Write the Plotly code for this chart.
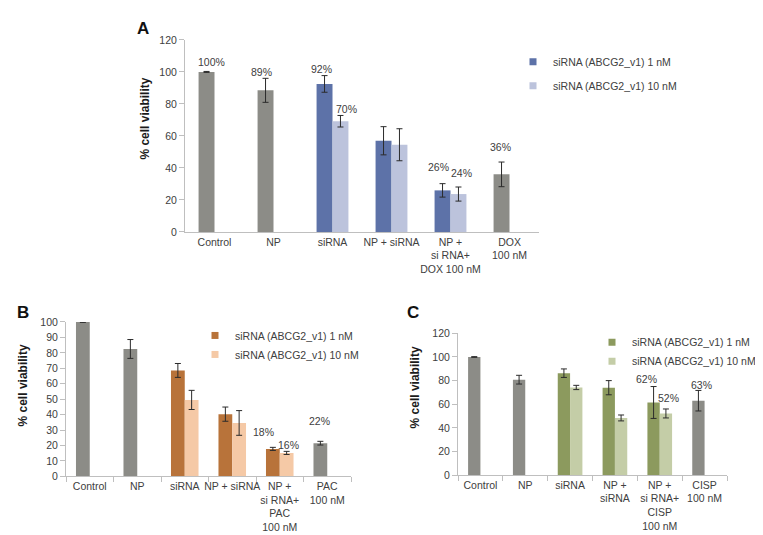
import plotly.graph_objects as go

# ---------------- data ----------------
cats_A = ["Control", "NP", "siRNA", "NP + siRNA", "NP +<br>si RNA+<br>DOX 100 nM", "DOX<br>100 nM"]
cats_B = ["Control", "NP", "siRNA", "NP + siRNA", "NP +<br>si RNA+<br>PAC<br>100 nM", "PAC<br>100 nM"]
cats_C = ["Control", "NP", "siRNA", "NP +<br>siRNA", "NP +<br>si RNA+<br>CISP<br>100 nM", "CISP<br>100 nM"]

series_names = ["siRNA (ABCG2_v1) 1 nM", "siRNA (ABCG2_v1) 10 nM"]

# Panel A (DOX)
A_ctrl_idx = [0, 1, 5]
A_ctrl_val = [100, 88.5, 36]
A_ctrl_err = [0.3, 7.5, 7.7]
A_si_idx = [2, 3, 4]
A_1nM_val = [92.5, 57, 26]
A_1nM_err = [5.2, 8.8, 4.2]
A_10nM_val = [69.2, 54.5, 23.7]
A_10nM_err = [3.6, 10, 4.4]

# Panel B (PAC)
B_ctrl_val = [100, 82.5, 21.5]
B_ctrl_err = [0.3, 6.1, 1.2]
B_1nM_val = [68.6, 40.3, 17.8]
B_1nM_err = [4.5, 4.6, 1.0]
B_10nM_val = [49.5, 34.6, 15.2]
B_10nM_err = [6.2, 8.0, 1.0]

# Panel C (CISP)
C_ctrl_val = [100, 80.8, 63]
C_ctrl_err = [0.3, 3.7, 8.7]
C_1nM_val = [86.3, 74, 61.5]
C_1nM_err = [3.6, 6.0, 13.5]
C_10nM_val = [74.2, 48.4, 52.2]
C_10nM_err = [1.8, 2.5, 3.8]

# percentage labels: (series, index within series, text)
A_labels = [("ctrl", 0, "100%"), ("ctrl", 1, "89%"), ("s1", 0, "92%"), ("s10", 0, "70%"),
            ("s1", 2, "26%"), ("s10", 2, "24%"), ("ctrl", 2, "36%")]
B_labels = [("s1", 2, "18%"), ("s10", 2, "16%"), ("ctrl", 2, "22%")]
C_labels = [("s1", 2, "62%"), ("s10", 2, "52%"), ("ctrl", 2, "63%")]

# ---------------- styling ----------------
W, H = 763, 535
FONT = "Liberation Sans, Arial, sans-serif"
TXT = "#404040"
AXC = "#bfbfbf"
GRAY = "#8c8c87"
ERRC = "#2b2b2b"

panels = [
    dict(key="A", cats=cats_A, ctrl=(A_ctrl_val, A_ctrl_err), s1=(A_1nM_val, A_1nM_err),
         s10=(A_10nM_val, A_10nM_err), labels=A_labels,
         colors=("#5d72a8", "#bcc3dc"), xpx=(177, 531), ypx=(26.5, 223), yr=120, dt=20, bw=0.27,
         xticks=False,
         lab_shift=[(-3.5, 9.5), (-12.5, 6), (-11.5, 7), (13.5, 6), (-12, 17), (11, 14), (-9.5, 15)],
         ytitle=(137, 107), letter=(135, 15), legend=(505, 34, 5)),
    dict(key="B", cats=cats_B, ctrl=(B_ctrl_val, B_ctrl_err), s1=(B_1nM_val, B_1nM_err),
         s10=(B_10nM_val, B_10nM_err), labels=B_labels,
         colors=("#b8733a", "#f5c9a6"), xpx=(58, 343), ypx=(315, 473), yr=100, dt=10, bw=0.29,
         xticks=True,
         lab_shift=[(-16.5, 15), (9, 6), (-8, 20)],
         ytitle=(15, 380), letter=(15, 305), legend=(187, 314, 0)),
    dict(key="C", cats=cats_C, ctrl=(C_ctrl_val, C_ctrl_err), s1=(C_1nM_val, C_1nM_err),
         s10=(C_10nM_val, C_10nM_err), labels=C_labels,
         colors=("#8c9a5e", "#c4cda7"), xpx=(450, 719), ypx=(326.7, 471.7), yr=120, dt=20, bw=0.275,
         xticks=True,
         lab_shift=[(-13.6, 8), (8.5, 11), (-3.5, 5)],
         ytitle=(407, 382), letter=(405, 305), legend=(584, 321, 0)),
]

fig = go.Figure()
annotations = []
layout_axes = {}

for i, p in enumerate(panels):
    n = "" if i == 0 else str(i + 1)
    xa, ya = "x" + n, "y" + n
    leg = "legend" if i == 0 else "legend" + str(i + 1)
    cats = p["cats"]
    ctrl_x = [cats[k] for k in A_ctrl_idx]
    si_x = [cats[k] for k in A_si_idx]
    bw = p["bw"]
    err = dict(type="data", color=ERRC, thickness=1, width=3)

    fig.add_trace(go.Bar(x=ctrl_x, y=p["ctrl"][0], error_y=dict(err, array=p["ctrl"][1]),
                         marker=dict(color=GRAY, line=dict(width=0)), width=bw, offset=-bw,
                         xaxis=xa, yaxis=ya, showlegend=False, hoverinfo="y"))
    fig.add_trace(go.Bar(x=si_x, y=p["s1"][0], error_y=dict(err, array=p["s1"][1]),
                         marker=dict(color=p["colors"][0], line=dict(width=0)), width=bw, offset=-bw,
                         xaxis=xa, yaxis=ya, showlegend=False, hoverinfo="y"))
    fig.add_trace(go.Bar(x=si_x, y=p["s10"][0], error_y=dict(err, array=p["s10"][1]),
                         marker=dict(color=p["colors"][1], line=dict(width=0)), width=bw, offset=0,
                         xaxis=xa, yaxis=ya, showlegend=False, hoverinfo="y"))
    # legend entries
    for nm, col in zip(series_names, p["colors"]):
        fig.add_trace(go.Scatter(x=[None], y=[None], mode="markers", name=nm,
                                 marker=dict(symbol="square", size=7, color=col),
                                 xaxis=xa, yaxis=ya, legend=leg, legendgroup=p["key"] + nm))

    x0, x1 = p["xpx"]
    yt, yb = p["ypx"]
    layout_axes["xaxis" + n] = dict(
        domain=[x0 / W, x1 / W], anchor=ya, type="category", categoryorder="array",
        categoryarray=cats, range=[-0.5, 5.5], showline=True, linecolor=AXC, linewidth=1,
        ticks="outside" if p["xticks"] else "", tickson="boundaries", ticklen=5, tickcolor=AXC,
        tickangle=0,
        tickfont=dict(family=FONT, size=10.5, color=TXT), showgrid=False, zeroline=False,
        fixedrange=True)
    layout_axes["yaxis" + n] = dict(
        domain=[1 - yb / H, 1 - yt / H], anchor=xa, range=[0, p["yr"]], dtick=p["dt"],
        showline=True, linecolor=AXC, linewidth=1, ticks="outside", ticklen=5, tickcolor=AXC,
        tickfont=dict(family=FONT, size=10.5, color=TXT), showgrid=False, zeroline=False,
        fixedrange=True)

    # percentage labels
    src = {"ctrl": (ctrl_x, p["ctrl"]), "s1": (si_x, p["s1"]), "s10": (si_x, p["s10"])}
    for (ser, k, txt), (dx, dy) in zip(p["labels"], p["lab_shift"]):
        xs, (vals, errs) = src[ser]
        annotations.append(dict(
            x=xs[k], y=vals[k] + errs[k], xref=xa, yref=ya, text=txt, showarrow=False,
            xanchor="center", yanchor="middle", xshift=dx, yshift=dy,
            font=dict(family=FONT, size=10.5, color=TXT)))

    # y-axis title
    tx, ty = p["ytitle"]
    annotations.append(dict(
        x=tx / W, y=1 - ty / H, xref="paper", yref="paper", text="<b>% cell viability</b>",
        textangle=-90, showarrow=False, xanchor="center", yanchor="middle",
        font=dict(family=FONT, size=12, color="#1a1a1a")))
    # panel letter
    lx, ly = p["letter"]
    annotations.append(dict(
        x=lx / W, y=1 - ly / H, xref="paper", yref="paper", text="<b>" + p["key"] + "</b>",
        showarrow=False, xanchor="center", yanchor="middle",
        font=dict(family=FONT, size=17, color="#111111")))

    gx, gy, gap = p["legend"]
    layout_axes[leg] = dict(
        x=gx / W, y=1 - gy / H, xanchor="left", yanchor="top", bgcolor="rgba(0,0,0,0)",
        font=dict(family=FONT, size=10.5, color=TXT), tracegroupgap=gap, itemclick=False,
        itemdoubleclick=False)

fig.update_layout(
    width=W, height=H, margin=dict(l=0, r=0, t=0, b=0), autosize=False,
    paper_bgcolor="white", plot_bgcolor="white", barmode="overlay",
    font=dict(family=FONT, size=10.5, color=TXT), annotations=annotations,
    **layout_axes)

fig.write_html("out.html")
